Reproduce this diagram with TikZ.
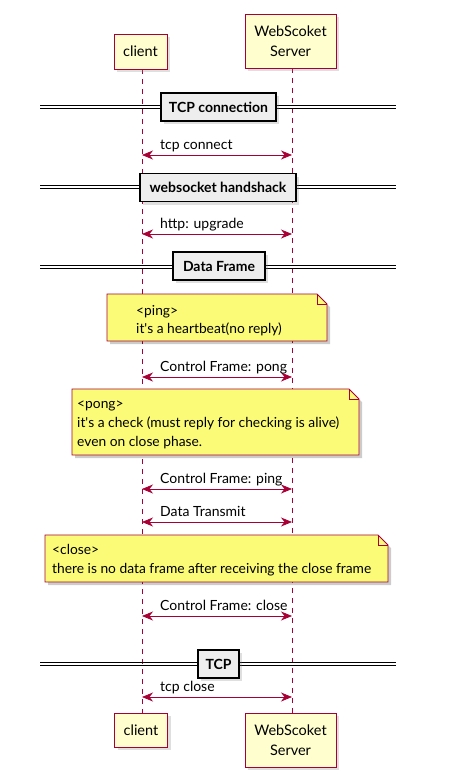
\documentclass[tikz,border=0pt]{standalone}
\usepackage{fontspec}
\setmainfont{Lato}
\usetikzlibrary{arrows.meta,shadows,calc}
\definecolor{plred}{HTML}{A80036}
\definecolor{plpart}{HTML}{FEFECE}
\definecolor{plnote}{HTML}{FBFB77}
\definecolor{pldiv}{HTML}{EEEEEE}
\tikzset{
  part/.style={draw=plred, fill=plpart, line width=1pt, inner sep=0pt, align=center,
    font=\fontsize{14.5}{20}\selectfont,
    drop shadow={shadow xshift=3pt, shadow yshift=-3pt, opacity=.25}},
  life/.style={draw=plred, line width=0.6pt, dash pattern=on 5pt off 5pt},
  msg/.style={draw=plred, line width=0.8pt,
    {Stealth[length=11pt,width=9pt,inset=3.5pt]}-{Stealth[length=11pt,width=9pt,inset=3.5pt]}},
  lbl/.style={anchor=base west, inner sep=0pt, font=\fontsize{14}{16}\selectfont},
  divline/.style={draw=black, line width=0.7pt},
  divbox/.style={draw=black, fill=pldiv, line width=1.2pt, inner sep=0pt, minimum height=28pt,
    font=\bfseries\fontsize{14}{16}\selectfont,
    drop shadow={shadow xshift=3pt, shadow yshift=-3pt, opacity=.25}},
  notebg/.style={draw=plred, fill=plnote, line width=0.8pt},
  noteshadow/.style={fill=black, opacity=.2},
  notetxt/.style={anchor=base west, inner sep=0pt, font=\fontsize{13.8}{16}\selectfont},
}
\begin{document}
\begin{tikzpicture}[x=1pt, y=-1pt]
\useasboundingbox[fill=white] (0,0) rectangle (457,777);

% lifelines
\coordinate (cl0) at (142,69);
\coordinate (cl1) at (142,713);
\coordinate (sv0) at (292,68);
\coordinate (sv1) at (292,713);
\draw[life] (cl0) -- (cl1);
\draw[life] (sv0) -- (sv1);

% participants
\node[part, minimum width=53pt, minimum height=35pt] (clientTop) at (140.5,51.5) {client};
\node[part, minimum width=91pt, minimum height=54pt] (serverTop) at (290.5,41) {WebScoket\\Server};
\node[part, minimum width=53pt, minimum height=34pt] (clientBot) at (141,730) {client};
\node[part, minimum width=91pt, minimum height=54pt] (serverBot) at (290.5,740) {WebScoket\\Server};

% dividers
\foreach \y/\nm in {107/d1, 187/d2, 267/d3, 664/d4}{
  \coordinate (\nm L) at (40,\y);
  \coordinate (\nm R) at (396,\y);
  \draw[divline] ($(\nm L)+(0,-1.6)$) -- ($(\nm R)+(0,-1.6)$);
  \draw[divline] ($(\nm L)+(0,1.6)$) -- ($(\nm R)+(0,1.6)$);
}
\node[divbox, minimum width=115pt] (div1) at (218.5,107) {TCP connection};
\node[divbox, minimum width=156pt] (div2) at (218,187.5) {websocket handshack};
\node[divbox, minimum width=92pt] (div3) at (219,266) {Data Frame};
\node[divbox, minimum width=41pt] (div4) at (218.5,664) {TCP};

% messages
\foreach \y/\nm in {155/m1, 234/m2, 377/m3, 489/m4, 522/m5, 616/m6, 697/m7}{
  \coordinate (\nm L) at (142,\y);
  \coordinate (\nm R) at (292,\y);
  \draw[msg] (\nm L) -- (\nm R);
}
\node[lbl] (t1) at ($(m1L)+(18,-6)$) {tcp connect};
\node[lbl] (t2) at ($(m2L)+(18,-6)$) {http: upgrade};
\node[lbl] (t3) at ($(m3L)+(18,-6)$) {Control Frame: pong};
\node[lbl] (t4) at ($(m4L)+(18,-6)$) {Control Frame: ping};
\node[lbl] (t5) at ($(m5L)+(18,-6)$) {Data Transmit};
\node[lbl] (t6) at ($(m6L)+(18,-6)$) {Control Frame: close};
\node[lbl] (t7) at ($(m7L)+(18,-6)$) {tcp close};

% notes
\foreach \xa/\ya/\xb/\yb/\nm in {107/294/327/341/n1, 72/389/359/455/n2, 45/535/388/582/n3}{
  \fill[noteshadow] (\xa+3,\ya+3) -- (\xb-7,\ya+3) -- (\xb+3,\ya+13) -- (\xb+3,\yb+3) -- (\xa+3,\yb+3) -- cycle;
  \draw[notebg] (\xa,\ya) -- (\xb-10,\ya) -- (\xb,\ya+10) -- (\xb,\yb) -- (\xa,\yb) -- cycle;
  \draw[notebg, fill=none] (\xb-10,\ya) -- (\xb-10,\ya+10) -- (\xb,\ya+10);
}
\node[notetxt] (n1a) at (136,315) {<ping>};
\node[notetxt] (n1b) at (136,333) {it\textquotesingle s a heartbeat(no reply)};
\node[notetxt] (n2a) at (77,408.5) {<pong>};
\node[notetxt] (n2b) at (77,427) {it\textquotesingle s a check (must reply for checking is alive)};
\node[notetxt] (n2c) at (77,446) {even on close phase.};
\node[notetxt] (n3a) at (52,554.5) {<close>};
\node[notetxt] (n3b) at (52,573) {there is no data frame after receiving the close frame};
\end{tikzpicture}
\end{document}
